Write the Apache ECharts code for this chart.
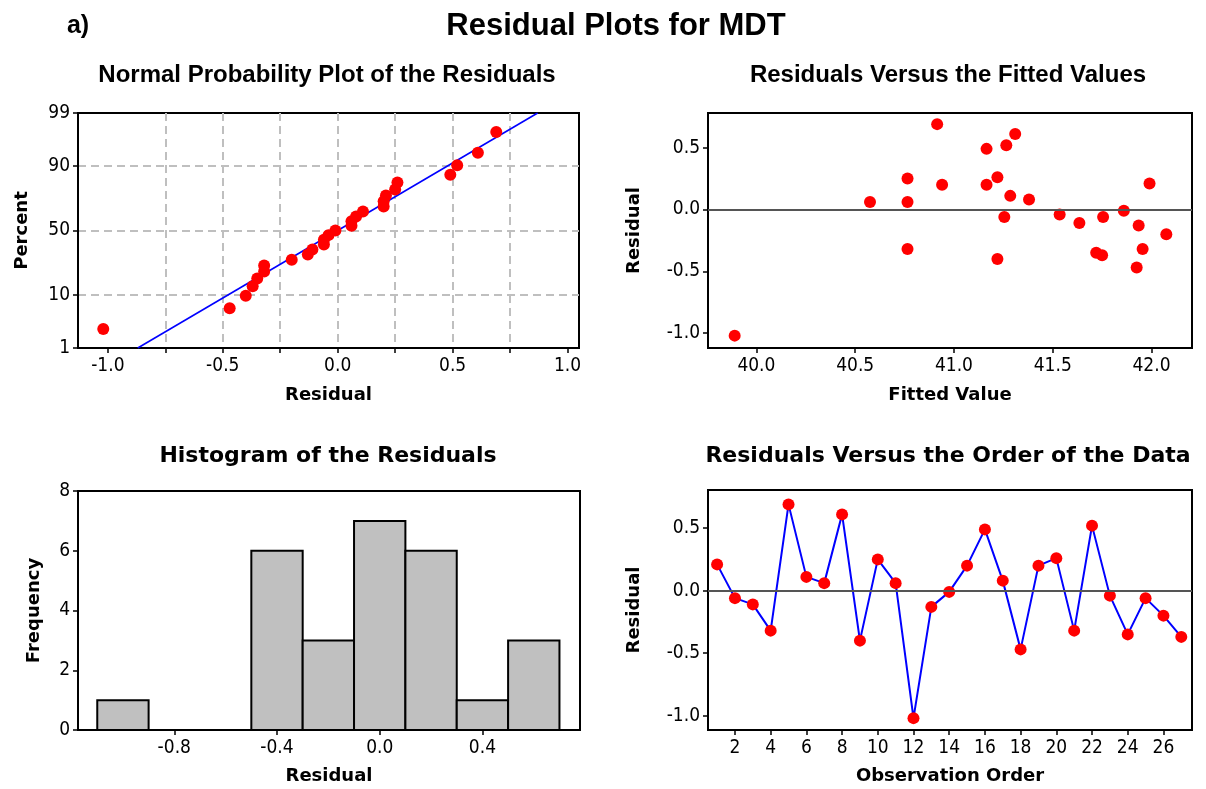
<!DOCTYPE html>
<html><head><meta charset="utf-8">
<script src="https://cdn.jsdelivr.net/npm/echarts@6/dist/echarts.min.js"></script>
<style>html,body{margin:0;padding:0;background:#fff}#c{width:1206px;height:789px}</style>
</head><body><div id="c"></div>
<script>
// ---- data ----
const observationOrder = [1,2,3,4,5,6,7,8,9,10,11,12,13,14,15,16,17,18,19,20,21,22,23,24,25,26,27];
const residuals = [0.21,-0.06,-0.11,-0.32,0.69,0.11,0.06,0.61,-0.40,0.25,0.06,-1.02,-0.13,-0.01,0.20,0.49,0.08,-0.47,0.20,0.26,-0.32,0.52,-0.04,-0.35,-0.06,-0.20,-0.37];
const fittedValues = [41.99,41.755,41.635,40.765,40.915,41.285,40.575,41.31,41.22,40.765,40.765,39.89,41.935,41.86,40.94,41.165,41.38,41.925,41.165,41.22,41.955,41.265,41.535,41.72,41.255,42.075,41.75];
const histBinStarts = [-1.1,-0.9,-0.7,-0.5,-0.3,-0.1,0.1,0.3,0.5];
const histBinEnds   = [-0.9,-0.7,-0.5,-0.3,-0.1,0.1,0.3,0.5,0.7];
const histCounts    = [1,0,0,6,3,7,6,1,3];
const percentTicks = [1,10,50,90,99];
const fitLineResidual = [-0.87, 0.87];
const fitLinePercent = [1, 99];
const npXTicks = [-1,-0.75,-0.5,-0.25,0,0.25,0.5,0.75,1];
const npXLabels = [-1,-0.5,0,0.5,1];
const fitXTicks = [40,40.5,41,41.5,42];
const residTicks = [-1,-0.5,0,0.5];
const histXTicks = [-0.8,-0.4,0,0.4];
const orderTicks = [2,4,6,8,10,12,14,16,18,20,22,24,26];

// inverse standard normal CDF (axis transform for the probability scale)
function invNorm(p){
  const a=[-3.969683028665376e+01,2.209460984245205e+02,-2.759285104469687e+02,1.383577518672690e+02,-3.066479806614716e+01,2.506628277459239e+00];
  const b=[-5.447609879822406e+01,1.615858368580409e+02,-1.556989798598866e+02,6.680131188771972e+01,-1.328068155288572e+01];
  const c=[-7.784894002430293e-03,-3.223964580411365e-01,-2.400758277161838e+00,-2.549732539343734e+00,4.374664141464968e+00,2.938163982698783e+00];
  const d=[7.784695709041462e-03,3.224671290700398e-01,2.445134137142996e+00,3.754408661907416e+00];
  const pl=0.02425;
  let q,r;
  if(p<pl){q=Math.sqrt(-2*Math.log(p));return (((((c[0]*q+c[1])*q+c[2])*q+c[3])*q+c[4])*q+c[5])/((((d[0]*q+d[1])*q+d[2])*q+d[3])*q+1);}
  if(p<=1-pl){q=p-0.5;r=q*q;return (((((a[0]*r+a[1])*r+a[2])*r+a[3])*r+a[4])*r+a[5])*q/(((((b[0]*r+b[1])*r+b[2])*r+b[3])*r+b[4])*r+1);}
  q=Math.sqrt(-2*Math.log(1-p));return -(((((c[0]*q+c[1])*q+c[2])*q+c[3])*q+c[4])*q+c[5])/((((d[0]*q+d[1])*q+d[2])*q+d[3])*q+1);
}
const zOf = pct => invNorm(pct/100);

// normal probability plot points: sorted residuals with median-rank percentiles
const sortedRes = residuals.slice().sort((x,y)=>x-y);
const nRes = sortedRes.length;
const npPoints = sortedRes.map((v,i)=>[v, zOf((i+1-0.3)/(nRes+0.4)*100)]);
const npLine = fitLineResidual.map((v,i)=>[v, zOf(fitLinePercent[i])]);

const tickFont = "'DejaVu Sans Condensed','DejaVu Sans',sans-serif";
const nameFont = "'DejaVu Sans',sans-serif";
const TF = 19;

function baseAxis(extra){
  return Object.assign({
    type:'value',
    axisLine:{show:true,onZero:false,lineStyle:{color:'#000',width:2}},
    axisTick:{show:true,inside:false,length:5,lineStyle:{color:'#000',width:1.5}},
    axisLabel:{color:'#000',fontSize:TF,fontFamily:tickFont,margin:9},
    splitLine:{show:false},
    nameLocation:'middle',
    nameTextStyle:{color:'#000',fontFamily:nameFont,fontWeight:'bold',fontSize:18}
  }, extra);
}
const f1 = v => (Math.abs(v)<1e-9?0:v).toFixed(1);
const tick = vals => ({show:true,length:5,customValues:vals,lineStyle:{color:'#000',width:1.5}});
const lab = (vals,fmt,m) => ({color:'#000',fontSize:TF,fontFamily:tickFont,margin:m,customValues:vals,formatter:fmt});

const gridStyle = {show:true,borderColor:'#000',borderWidth:2,backgroundColor:'transparent',containLabel:false};

const option = {
  animation:false,
  backgroundColor:'#fff',
  grid:[
    Object.assign({left:78,top:113,width:501,height:235},gridStyle),
    Object.assign({left:708,top:113,width:484,height:235},gridStyle),
    Object.assign({left:78,top:491,width:502,height:239},gridStyle),
    Object.assign({left:708,top:490,width:484,height:240},gridStyle)
  ],
  xAxis:[
    baseAxis({gridIndex:0,min:-1.13,max:1.05,name:'Residual',nameGap:38,
      axisTick:tick(npXTicks),axisLabel:lab(npXLabels,f1,9),
      splitLine:{show:true,showMinLine:false,showMaxLine:false,lineStyle:{color:'#bfbfbf',width:2,type:[8,5]}}}),
    baseAxis({gridIndex:1,min:39.755,max:42.205,name:'Fitted Value',nameGap:38,
      axisTick:tick(fitXTicks),axisLabel:lab(fitXTicks,f1,9)}),
    baseAxis({gridIndex:2,min:-1.175,max:0.78,name:'Residual',nameGap:37,
      axisTick:tick(histXTicks),axisLabel:lab(histXTicks,f1,9)}),
    baseAxis({gridIndex:3,min:0.49,max:27.6,name:'Observation Order',nameGap:37,
      axisTick:tick(orderTicks),axisLabel:lab(orderTicks,v=>String(v),9)})
  ],
  yAxis:[
    baseAxis({gridIndex:0,min:zOf(1),max:zOf(99),name:'Percent',nameGap:47,
      axisTick:tick(percentTicks.map(zOf)),
      axisLabel:lab(percentTicks.map(zOf),v=>{let best=percentTicks[0];percentTicks.forEach(p=>{if(Math.abs(zOf(p)-v)<Math.abs(zOf(best)-v))best=p;});return String(best);},8),
      splitLine:{show:true,showMinLine:false,showMaxLine:false,lineStyle:{color:'#bfbfbf',width:2,type:[8,5]}}}),
    baseAxis({gridIndex:1,min:-1.12,max:0.78,name:'Residual',nameGap:65,
      axisTick:tick(residTicks),axisLabel:lab(residTicks,f1,8)}),
    baseAxis({gridIndex:2,min:0,max:8,interval:2,name:'Frequency',nameGap:35,
      axisLabel:{color:'#000',fontSize:TF,fontFamily:tickFont,margin:8}}),
    baseAxis({gridIndex:3,min:-1.115,max:0.805,name:'Residual',nameGap:65,
      axisTick:tick(residTicks),axisLabel:lab(residTicks,f1,8)})
  ],
  series:[
    {type:'line',xAxisIndex:0,yAxisIndex:0,data:npLine,showSymbol:false,symbol:'none',
      lineStyle:{color:'#0000ff',width:1.6},z:2,silent:true},
    {type:'scatter',xAxisIndex:0,yAxisIndex:0,data:npPoints,symbol:'circle',symbolSize:12,
      itemStyle:{color:'#ff0000',opacity:1},z:3},
    {type:'line',xAxisIndex:1,yAxisIndex:1,data:[],z:1,
      markLine:{silent:true,symbol:['none','none'],label:{show:false},lineStyle:{color:'#555',width:2,type:'solid'},data:[{yAxis:0}]}},
    {type:'scatter',xAxisIndex:1,yAxisIndex:1,data:fittedValues.map((f,i)=>[f,residuals[i]]),symbol:'circle',symbolSize:12,
      itemStyle:{color:'#ff0000',opacity:1},z:3},
    {type:'custom',xAxisIndex:2,yAxisIndex:2,
      data:histCounts.map((c,i)=>[histBinStarts[i],histBinEnds[i],c]),
      renderItem:function(params,api){
        const c=api.value(2);
        if(!c) return null;
        const p0=api.coord([api.value(0),c]);
        const p1=api.coord([api.value(1),0]);
        return {type:'rect',shape:{x:p0[0],y:p0[1],width:p1[0]-p0[0],height:p1[1]-p0[1]},
          style:{fill:'#c0c0c0',stroke:'#000',lineWidth:2}};
      },z:2},
    {type:'line',xAxisIndex:3,yAxisIndex:3,data:[],z:1,
      markLine:{silent:true,symbol:['none','none'],label:{show:false},lineStyle:{color:'#555',width:2,type:'solid'},data:[{yAxis:0}]}},
    {type:'line',xAxisIndex:3,yAxisIndex:3,data:observationOrder.map((o,i)=>[o,residuals[i]]),
      symbol:'circle',symbolSize:12,showAllSymbol:true,itemStyle:{color:'#ff0000',borderWidth:0,opacity:1},
      lineStyle:{color:'#0000ff',width:2},z:3}
  ],
  graphic:[
    {type:'text',x:78,y:26,style:{text:'a)',font:"bold 25px 'Liberation Sans',Arial,sans-serif",fill:'#000',textAlign:'center',textVerticalAlign:'middle'}},
    {type:'text',x:616,y:26,style:{text:'Residual Plots for MDT',font:"bold 31px 'Liberation Sans',Arial,sans-serif",fill:'#000',textAlign:'center',textVerticalAlign:'middle'}},
    {type:'text',x:327,y:75,style:{text:'Normal Probability Plot of the Residuals',font:"bold 24px 'Liberation Sans',Arial,sans-serif",fill:'#000',textAlign:'center',textVerticalAlign:'middle'}},
    {type:'text',x:948,y:75,style:{text:'Residuals Versus the Fitted Values',font:"bold 24px 'Liberation Sans',Arial,sans-serif",fill:'#000',textAlign:'center',textVerticalAlign:'middle'}},
    {type:'text',x:328,y:456,style:{text:'Histogram of the Residuals',font:"bold 22px 'DejaVu Sans',sans-serif",fill:'#000',textAlign:'center',textVerticalAlign:'middle'}},
    {type:'text',x:948,y:456,style:{text:'Residuals Versus the Order of the Data',font:"bold 22px 'DejaVu Sans',sans-serif",fill:'#000',textAlign:'center',textVerticalAlign:'middle'}}
  ]
};
const chart = echarts.init(document.getElementById('c'),null,{renderer:'canvas'});
chart.setOption(option);
</script>
</body></html>
